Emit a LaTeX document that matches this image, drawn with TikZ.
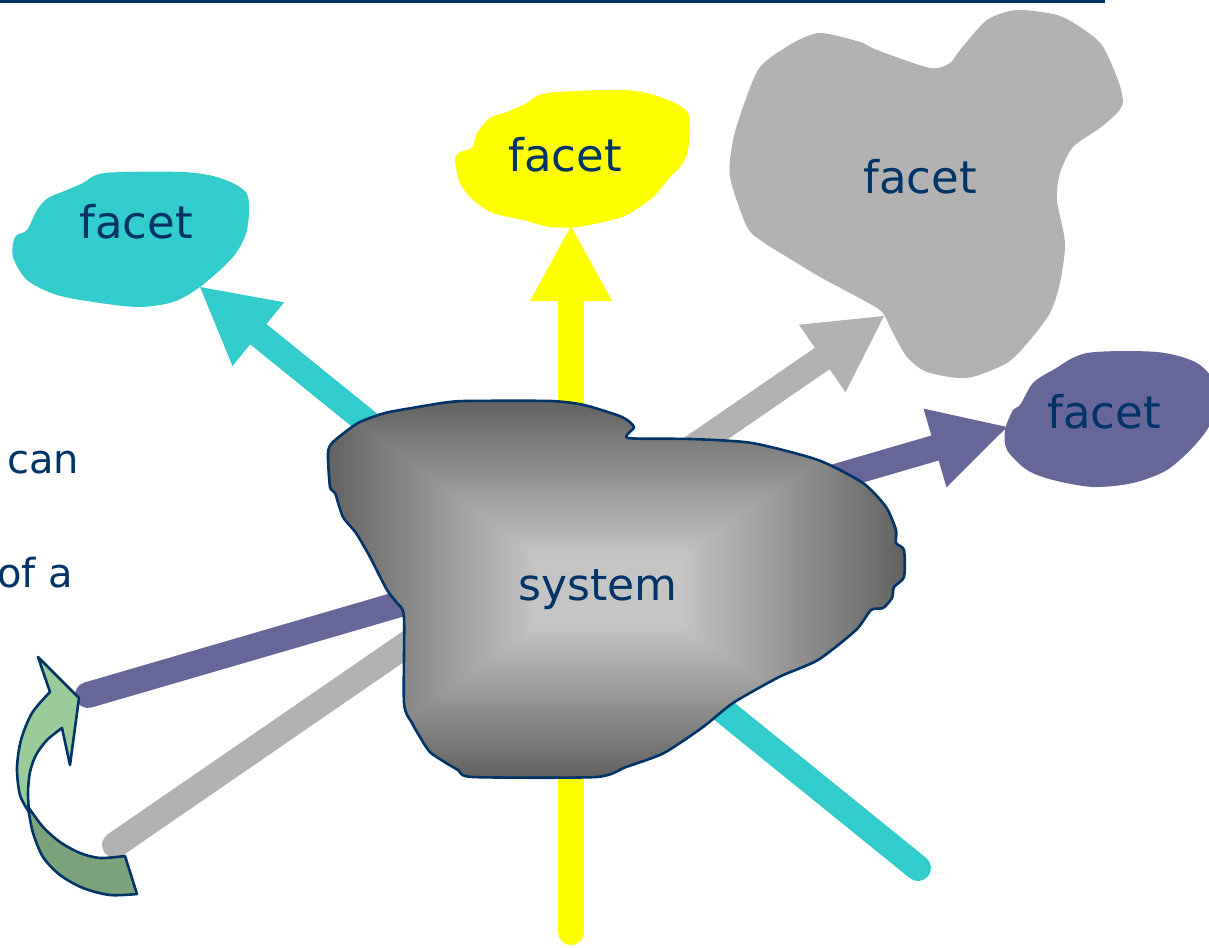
\documentclass[tikz,border=0pt]{standalone}
\usepackage{fontspec}
\setmainfont{DejaVu Sans}
\usetikzlibrary{calc}
\definecolor{navy}{HTML}{003366}
\definecolor{fcyan}{HTML}{33CCCC}
\definecolor{fyellow}{HTML}{FFFF00}
\definecolor{fgray}{HTML}{B2B2B2}
\definecolor{fpurple}{HTML}{666699}
\definecolor{sysdark}{HTML}{626262}
\definecolor{syslight}{HTML}{C4C4C4}
\definecolor{sysmid}{HTML}{939393}
\definecolor{glight}{HTML}{99CC99}
\definecolor{gdark}{HTML}{7BA37B}
\newcommand\FacetArrow[3]{%
  \coordinate (#3back) at ($(#3)!75pt!(#2)$);
  \draw[shaft,#1] (#2) -- (#3back);
  \fill[#1] (#3) -- ($(#3back)!41pt!90:(#3)$) -- ($(#3back)!41pt!-90:(#3)$) -- cycle;}
\begin{document}
\begin{tikzpicture}[x=1pt,y=-1pt,
  shaft/.style={line width=26pt,line cap=round},
  facettext/.style={text=navy,font=\fontsize{45}{50}\selectfont,inner sep=0pt,anchor=base},
  sidetext/.style={text=navy,font=\fontsize{40}{44}\selectfont,inner sep=0pt},
  outline/.style={draw=navy,line width=2.6pt,line join=round}]
\useasboundingbox (0,0) rectangle (1209,947);
% top rule
\draw[navy,line width=3pt] (0,1.5) -- (1105,1.5);
% free ends and tips
\coordinate (endyellow) at (571,932);
\coordinate (tipyellow) at (571,226);
\coordinate (endcyan) at (918,868);
\coordinate (tipcyan) at (200,287);
\coordinate (endgray) at (115,845);
\coordinate (tipgray) at (884,316);
\coordinate (endpurple) at (88,695);
\coordinate (tippurple) at (1007,427);
% connectors
\FacetArrow{fcyan}{endcyan}{tipcyan}
\FacetArrow{fyellow}{endyellow}{tipyellow}
\FacetArrow{fgray}{endgray}{tipgray}
\FacetArrow{fpurple}{endpurple}{tippurple}
% facets
\fill[fcyan] plot[smooth cycle,tension=0.5] coordinates {(105,173) (182,172) (220,178) (247,194) (247,230) (233,257) (200,287) (173,302) (140,307) (100,303) (57,295) (27,280) (13,257) (15,237) (27,230) (37,210) (48,198) (67,190) (83,183)};
\fill[fyellow] plot[smooth cycle,tension=0.5] coordinates {(547,93) (623,90) (660,97) (688,113) (688,150) (680,167) (670,177) (653,197) (627,215) (603,222) (577,227) (550,227) (523,220) (493,213) (473,200) (460,183) (455,160) (460,152) (472,148) (477,133) (490,118) (507,112) (527,103)};
\fill[fgray] plot[smooth cycle,tension=0.45] coordinates {(1017,10) (1057,15) (1080,27) (1102,45) (1118,80) (1123,102) (1117,113) (1100,128) (1073,147) (1060,173) (1057,200) (1065,243) (1060,283) (1050,313) (1030,340) (1007,363) (967,378) (927,372) (907,357) (893,333) (882,312) (863,300) (820,277) (787,257) (763,242) (747,227) (730,177) (733,140) (743,107) (760,67) (793,43) (820,33) (860,42) (877,50) (930,68) (950,63) (960,50) (987,20)};
\fill[fpurple] plot[smooth cycle,tension=0.5] coordinates {(1087,353) (1157,352) (1197,363) (1215,385) (1212,420) (1195,445) (1167,470) (1133,483) (1093,487) (1053,480) (1027,470) (1007,450) (1005,430) (1013,410) (1020,405) (1033,383) (1053,370)};
\node[facettext] (fcyan) at (136,238) {facet};
\node[facettext] (fyellow) at (565,171) {facet};
\node[facettext] (fgray) at (920,193) {facet};
\node[facettext] (fpurple) at (1104,428) {facet};
% system blob
\begin{scope}
\clip plot[smooth cycle,tension=0.4] coordinates {(333,442) (358,423) (385,413) (412,408) (442,403) (465,401) (550,401) (584,405) (622,417) (634,427) (628,438) (691,439) (752,443) (818,460) (863,483) (886,507) (896,530) (896,543) (904,550) (904,577) (894,587) (892,598) (883,608) (871,610) (856,630) (818,660) (779,677) (733,703) (703,727) (664,753) (626,767) (596,777) (473,777) (458,770) (431,753) (420,737) (412,723) (404,703) (404,617) (397,603) (387,590) (370,557) (356,533) (343,517) (335,493) (330,487) (328,453)};
\fill[sysmid] (320,395) rectangle (910,785);
\fill[syslight] (534,554) rectangle (681,627);
\shade[top color=sysdark,bottom color=syslight] (328,401) -- (904,401) -- (680,555) -- (535,555) -- cycle;
\shade[top color=syslight,bottom color=sysdark] (535,626) -- (680,626) -- (904,777) -- (328,777) -- cycle;
\shade[left color=sysdark,right color=syslight] (328,401) -- (535,555) -- (535,626) -- (328,777) -- cycle;
\shade[left color=syslight,right color=sysdark] (680,555) -- (904,401) -- (904,777) -- (680,626) -- cycle;
\end{scope}
\draw[outline] plot[smooth cycle,tension=0.4] coordinates {(333,442) (358,423) (385,413) (412,408) (442,403) (465,401) (550,401) (584,405) (622,417) (634,427) (628,438) (691,439) (752,443) (818,460) (863,483) (886,507) (896,530) (896,543) (904,550) (904,577) (894,587) (892,598) (883,608) (871,610) (856,630) (818,660) (779,677) (733,703) (703,727) (664,753) (626,767) (596,777) (473,777) (458,770) (431,753) (420,737) (412,723) (404,703) (404,617) (397,603) (387,590) (370,557) (356,533) (343,517) (335,493) (330,487) (328,453)};
\node[facettext,font=\fontsize{44}{50}\selectfont] (system) at (598,600) {system};
% curved arrow
\draw[outline,fill=gdark] (29,808) -- plot[smooth] coordinates {(29,808) (43,827) (60,842) (80,853) (100,858) (125,856)} -- (137,894) -- plot[smooth] coordinates {(137,894) (110,895) (83,888) (60,875) (43,857) (33,833) (29,813)} -- cycle;
\draw[outline,fill=glight] (50,692) -- (38,657) -- (79,698) -- (70,765) -- (62,728) -- plot[smooth] coordinates {(62,728) (47,740) (36,755) (30,772) (28,792) (29,812)} -- plot[smooth] coordinates {(29,812) (20,795) (17,768) (21,740) (32,713) (50,692)} -- cycle;
% side text, cut by the left edge as in the reference
\node[sidetext,anchor=base west] (tcan) at (7,473) {can};
\node[sidetext,anchor=base east] (tofa) at (73,587) {of a};
\end{tikzpicture}
\end{document}
